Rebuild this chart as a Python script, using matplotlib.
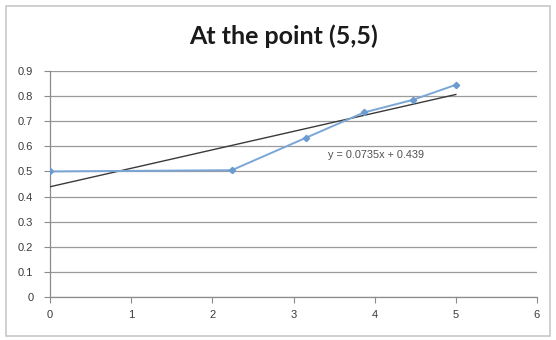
import numpy as np
import matplotlib
matplotlib.use("Agg")
import matplotlib.pyplot as plt
from matplotlib.patches import Rectangle

# Distance from the point (5,5) and measured value
distance = [0.0, 2.24, 3.16, 3.87, 4.47, 5.0]
value = [0.50, 0.505, 0.635, 0.735, 0.785, 0.845]

# Linear trendline coefficients
trend_slope = 0.0735
trend_intercept = 0.439

x_ticks = [0, 1, 2, 3, 4, 5, 6]
y_ticks = [0, 0.1, 0.2, 0.3, 0.4, 0.5, 0.6, 0.7, 0.8, 0.9]
y_tick_labels = ["0", "0.1", "0.2", "0.3", "0.4", "0.5", "0.6", "0.7", "0.8", "0.9"]

title = "At the point (5,5)"

fig = plt.figure(figsize=(5.56, 3.40), dpi=100)
fig.patch.set_facecolor("white")

# Outer chart frame
fig.patches.append(Rectangle((6 / 556, 4 / 340), 544 / 556, 330 / 340,
                             transform=fig.transFigure, fill=False,
                             edgecolor="#c8c8c8", linewidth=1.2))

ax = fig.add_axes([50 / 556, 1 - 297 / 340, 487 / 556, 226 / 340])

xfit = np.array([distance[0], distance[-1]])
ax.plot(xfit, trend_slope * xfit + trend_intercept, color="#3a3a3a",
        linewidth=1.0, zorder=3)

ax.plot(distance, value, color="#7aa6d6", linewidth=1.4, marker="D",
        markersize=3.2, markerfacecolor="#6b9bd0", markeredgecolor="#6b9bd0", zorder=4)

ax.text(3.43, 0.553, f"y = {trend_slope:.4f}x + {trend_intercept:.3f}", fontsize=7.8,
        color="#505050", family="Liberation Sans")

ax.set_xlim(0, 6)
ax.set_ylim(0, 0.9)
ax.set_xticks(x_ticks)
ax.set_yticks(y_ticks)
ax.set_yticklabels(y_tick_labels)
ax.grid(axis="y", color="#9a9a9a", linewidth=0.9)
ax.set_axisbelow(True)

for side in ("top", "right"):
    ax.spines[side].set_visible(False)
for side in ("left", "bottom"):
    ax.spines[side].set_color("#8c8c8c")
    ax.spines[side].set_linewidth(0.9)

ax.tick_params(axis="both", labelsize=8, colors="#8c8c8c", labelcolor="#3a3a3a",
               length=4, width=0.8)
ax.tick_params(axis="y", pad=8)
ax.tick_params(axis="x", pad=5)
for lbl in ax.get_xticklabels() + ax.get_yticklabels():
    lbl.set_family("Liberation Sans")

fig.text(284 / 556, 1 - 36 / 340, title, ha="center", va="center",
         fontsize=18, fontweight="bold", family="Lato", color="#1a1a1a")

fig.savefig("out.png", dpi=100)
